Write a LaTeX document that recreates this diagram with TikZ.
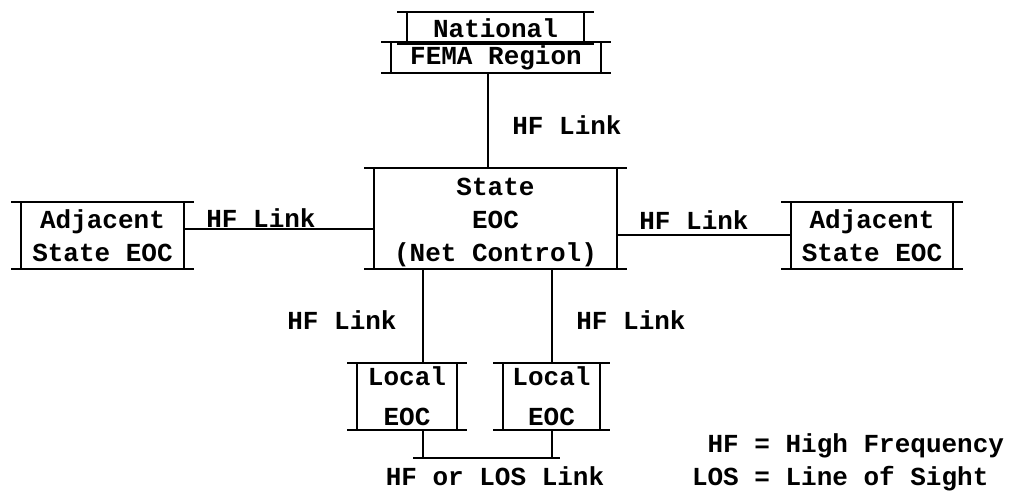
\documentclass[tikz,border=0pt]{standalone}
\usepackage{fontspec}
\setmonofont{Liberation Mono}
\usetikzlibrary{calc}
\tikzset{
	unit/.style={inner sep=0pt, align=center, minimum width=#1},
	lbl/.style={inner sep=0pt, align=center},
}
% box drawn as two overhanging rules and two sides
\def\railbox(#1){\draw ([xshift=-5pt]#1.north west) -- ([xshift=5pt]#1.north east);
	\draw ([xshift=-5pt]#1.south west) -- ([xshift=5pt]#1.south east);
	\draw (#1.north west) -- (#1.south west) (#1.north east) -- (#1.south east);}

\begin{document}
\begin{tikzpicture}[x=0.5pt, y=-0.5pt, line width=1pt,
	font=\ttfamily\bfseries\fontsize{13}{16.5}\selectfont]
			%%%%% START %%%%%
			\useasboundingbox (0,0) rectangle (1009,491);
			
			\node[unit=87.5pt, minimum height=15pt] (national) at (495.5, 28) {National};
			\node[unit=104pt, minimum height=14.5pt] (fema) at (496, 57.5) {FEMA Region};
			\node[unit=120.5pt, minimum height=49.5pt] (state) at (495.5, 218.5) {\rule{0pt}{13pt}State\\EOC\\(Net Control)};
			\node[unit=80.5pt, minimum height=32.5pt] (adjL) at (102.5, 235.5) {Adjacent\\State EOC};
			\node[unit=80pt, minimum height=32.5pt] (adjR) at (872, 235.5) {Adjacent\\State EOC};
			\node[unit=49pt, minimum height=32.5pt] (locL) at (407, 396.5) {Local\\[3.5pt]EOC};
			\node[unit=47.5pt, minimum height=32.5pt] (locR) at (551.5, 396.5) {Local\\[3.5pt]EOC};
			
			\railbox(national)
			\railbox(fema)
			\railbox(state)
			\railbox(adjL)
			\railbox(adjR)
			\railbox(locL)
			\railbox(locR)
			
			\draw ([xshift=-4pt]fema.south) -- ([xshift=-4pt]fema.south |- state.north);
			\draw ([yshift=3pt]adjL.east) -- ([yshift=3pt]adjL.east -| state.west);
			\draw (adjR.west) -- (adjR.west -| state.east);
			\draw ([xshift=8pt]locL.north) -- ([xshift=8pt]locL.north |- state.south);
			\draw (locR.north) -- (locR.north |- state.south);
			
			\coordinate (busL) at (413, 458);
			\coordinate (busR) at (560, 458);
			\draw (busL) -- (busR);
			\draw ([xshift=8pt]locL.south) -- ([xshift=8pt]locL.south |- busL);
			\draw (locR.south) -- (locR.south |- busL);
			
			\node[lbl] (hfTop) at (567, 125) {HF Link};
			\node[lbl] (hfLeft) at (261, 218) {HF Link};
			\node[lbl] (hfRight) at (694, 220) {HF Link};
			\node[lbl] (hfLocL) at (342, 320) {HF Link};
			\node[lbl] (hfLocR) at (631, 320) {HF Link};
			\node[lbl] (hfLos) at (495, 476) {HF or LOS Link};
			
			\node[lbl, anchor=west, align=left] (legend) at (691, 462) {\hphantom{L}HF = High Frequency\\LOS = Line of Sight};
			
			%%%%% END %%%%%
		\end{tikzpicture}
\end{document}
